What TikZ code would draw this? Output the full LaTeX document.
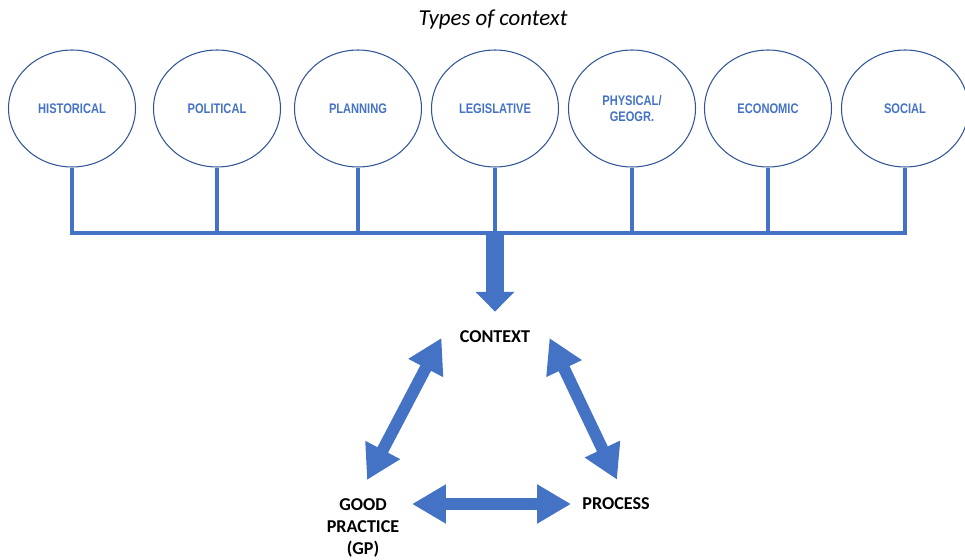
\documentclass[tikz,border=0pt]{standalone}
\usepackage{fontspec}
\usepackage{tikz}
\usetikzlibrary{arrows.meta,calc,shapes.geometric}
\setmainfont{Carlito}
\newfontfamily\ovalfont[FakeStretch=0.8]{Liberation Sans}

\definecolor{ctxblue}{HTML}{4472C4}
\definecolor{ovalline}{HTML}{2F5597}

\tikzset{
    oval/.style={ellipse, draw=ovalline, line width=0.6pt, minimum width=2.54cm, minimum height=2.34cm,
        inner sep=0pt, align=center, text=ctxblue, font=\ovalfont\bfseries\fontsize{7.9}{9.6}\selectfont},
    trunk/.style={draw=ctxblue, line width=2.8pt},
    label/.style={inner sep=0pt, align=center, font=\bfseries\fontsize{10.3}{12.5}\selectfont},
    dbl/.style={draw=ctxblue, line width=6.8pt, {Triangle[length=19.3pt,width=21pt]}-{Triangle[length=19.3pt,width=21pt]}},
    down/.style={draw=ctxblue, line width=10.2pt, -{Triangle[length=11.3pt,width=21.5pt]}}
}

\begin{document}
\begin{tikzpicture}[x={(0.02cm,0)}, y={(0,-0.02cm)}]
    \useasboundingbox (0,0) rectangle (965,560);

    % Title
    \node[font=\itshape\fontsize{13}{15}\selectfont] (title) at (493,20) {Types of context};

    % Types of context
    \node[oval] (hist) at (72,108.5) {HISTORICAL};
    \node[oval] (pol) at (217,108.5) {POLITICAL};
    \node[oval] (plan) at (358,108.5) {PLANNING};
    \node[oval] (leg) at (495,108.5) {LEGISLATIVE};
    \node[oval] (phys) at (632,108.5) {PHYSICAL/\\GEOGR.};
    \node[oval] (econ) at (768,108.5) {ECONOMIC};
    \node[oval] (soc) at (905,108.5) {SOCIAL};

    % Bar joining them
    \coordinate (bar) at (0,233);
    \draw[trunk] (hist.south) |- (bar -| soc.south) -- (soc.south);
    \foreach \n in {pol,plan,leg,phys,econ}
        \draw[trunk] (\n.south) -- (\n.south |- bar);

    % Triangle
    \node[label] (ctx) at (495,337) {CONTEXT};
    \node[label, anchor=north] (gp) at (363,498) {GOOD\\PRACTICE\\(GP)};
    \node[label] (proc) at (616,504) {PROCESS};

    % Arrows
    \draw[down] (leg.south |- bar) -- ($(ctx.north)+(0,-19)$);
    \draw[dbl] ($(gp.north)+(4,-18)$) -- ($(ctx.west)+(-18,1)$);
    \draw[dbl] ($(ctx.east)+(19,1)$) -- ($(proc.north)+(1,-18)$);
    \draw[dbl] ($(proc.west)+(-170,0)$) -- ($(proc.west)+(-11,0)$);
\end{tikzpicture}
\end{document}
